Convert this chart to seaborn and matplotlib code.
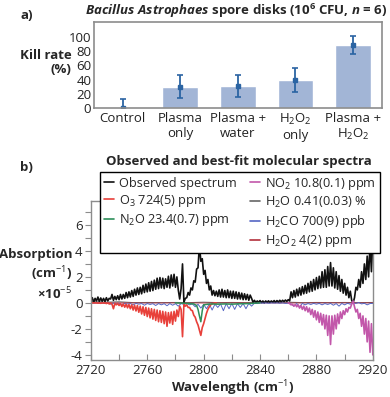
import numpy as np
import matplotlib
matplotlib.use("Agg")
import matplotlib.pyplot as plt
import seaborn as sns
from matplotlib.lines import Line2D
from matplotlib.ticker import MultipleLocator

# ---------------- data: panel a ----------------
categories = ["Control", "Plasma\nonly", "Plasma +\nwater", "H$_2$O$_2$\nonly", "Plasma +\nH$_2$O$_2$"]
kill_rate = [0, 30, 31, 39, 88.5]
kill_err = [13, 16, 16, 17, 13]

# ---------------- data: panel b (absorption x1e-5 cm-1) ----------------
wn_obs = np.arange(2720, 2921, 1)
observed = [
    0.10, 0.40, 0.05, 0.35, 0.15, 0.45, 0.10, 0.38, 0.12, 0.35,
    0.10, 0.40, 0.15, 0.35, 0.30, 0.65, 0.20, 0.50, 0.25, 0.55,
    0.25, 0.65, 0.30, 0.65, 0.35, 0.80, 0.40, 0.85, 0.45, 0.95,
    0.50, 1.05, 0.60, 1.15, 0.65, 1.20, 0.70, 1.35, 0.80, 1.45,
    0.85, 1.55, 0.90, 1.65, 0.95, 1.75, 1.05, 1.90, 1.10, 1.95,
    1.15, 1.90, 1.10, 1.85, 1.20, 2.05, 1.15, 2.15, 1.30, 2.20,
    1.20, 2.00, 1.00, 0.30, 1.10, 3.00, 0.05, 0.35, 0.40, 0.80,
    0.60, 1.15, 1.00, 1.70, 1.60, 2.60, 2.70, 4.50, 3.20, 3.40,
    2.20, 2.50, 1.50, 1.80, 1.00, 1.30, 0.60, 0.95, 0.55, 0.90,
    0.50, 1.00, 0.45, 1.05, 0.45, 0.95, 0.40, 1.00, 0.40, 0.90,
    0.35, 0.90, 0.35, 0.85, 0.30, 0.80, 0.30, 0.75, 0.25, 0.70,
    0.25, 0.65, 0.20, 0.60, 0.35, 0.05, 0.20, 0.02, 0.15, 0.05,
    0.18, 0.02, 0.15, 0.00, 0.15, 0.05, 0.16, 0.03, 0.15, 0.05,
    0.18, 0.04, 0.18, 0.06, 0.20, 0.08, 0.20, 0.10, 0.22, 0.12,
    0.25, 0.15, 0.85, 0.40, 0.95, 0.45, 1.05, 0.55, 1.15, 0.60,
    1.25, 0.70, 1.35, 0.75, 1.50, 0.85, 1.65, 0.90, 1.80, 1.00,
    1.95, 1.10, 2.05, 1.15, 2.40, 1.20, 2.55, 1.20, 2.80, 1.30,
    3.10, 1.30, 2.70, 1.15, 2.40, 1.05, 2.10, 0.90, 1.80, 0.75,
    1.50, 0.60, 1.20, 0.40, 0.90, 0.20, 0.00, 0.40, 1.20, 1.00,
    1.80, 1.20, 2.40, 1.50, 3.00, 1.80, 3.60, 2.00, 4.60, 2.40,
    5.00,
]

wn_o3 = np.arange(2720, 2810, 1)
o3 = [
    0, 0, 0, 0, 0, -0.02, 0, -0.03, 0, -0.02,
    0, -0.05, 0, -0.08, -0.02, -0.10, -0.45, -0.05, -0.15, -0.05,
    -0.20, -0.06, -0.28, -0.08, -0.33, -0.10, -0.38, -0.12, -0.45, -0.15,
    -0.55, -0.18, -0.62, -0.20, -0.72, -0.25, -0.85, -0.30, -0.95, -0.35,
    -1.05, -0.40, -1.15, -0.45, -1.25, -0.50, -1.35, -0.55, -1.45, -0.60,
    -1.50, -0.65, -1.60, -0.70, -1.80, -0.75, -1.55, -0.70, -1.65, -0.65,
    -1.40, -0.55, -1.05, -0.25, -0.50, -2.60, -0.10, -0.25, -0.15, -0.35,
    -0.35, -0.55, -0.60, -0.95, -1.10, -1.45, -1.70, -2.10, -2.50, -1.90,
    -1.60, -1.20, -0.80, -0.50, -0.30, -0.15, -0.08, -0.03, 0, 0,
]

wn_h2co = np.arange(2720, 2921, 2)
h2co = [
    0, -0.02, 0, -0.03, -0.01, -0.05, -0.02, -0.10, -0.02, -0.06,
    -0.03, -0.12, -0.04, -0.08, -0.05, -0.15, -0.04, -0.10, -0.05, -0.18,
    -0.05, -0.12, -0.06, -0.20, -0.05, -0.15, -0.06, -0.22, -0.05, -0.18,
    -0.06, -0.25, -0.05, -0.12, -0.04, -0.15, -0.08, -0.30, -0.10, -0.40,
    -0.12, -0.45, -0.08, -0.55, -0.10, -0.35, -0.08, -0.60, -0.06, -0.45,
    -0.05, -0.50, -0.06, -0.35, -0.05, -0.45, -0.04, -0.25, -0.02, -0.05,
    0, -0.02, 0, -0.03, 0, -0.02, 0, -0.03, 0, -0.04,
    -0.02, -0.08, -0.25, -0.05, -0.30, -0.04, -0.15, -0.05, -0.12, -0.04,
    -0.10, -0.04, -0.15, -0.05, -0.12, -0.04, -0.18, -0.05, -0.25, -0.04,
    -0.15, -0.03, -0.10, -0.02, -0.04, 0.03, -0.08, -0.03, -0.15, -0.05,
    -0.04,
]

wn_n2o = [2780, 2785, 2790, 2793, 2795, 2796, 2797, 2798, 2799, 2800,
          2803, 2806, 2810, 2815, 2820, 2825, 2830, 2835, 2840]
n2o = [0, -0.02, -0.05, -0.08, -0.20, -0.50, -1.00, -1.45, -0.60, -0.15,
       -0.10, -0.08, -0.10, -0.08, -0.10, -0.07, -0.06, -0.03, 0]

wn_no2 = np.arange(2860, 2921, 1)
no2 = [
    0, -0.05, -0.15, -0.10, -0.25, -0.12, -0.30, -0.15, -0.40, -0.20,
    -0.50, -0.25, -0.60, -0.30, -0.70, -0.40, -0.90, -0.50, -1.10, -0.60,
    -1.30, -0.70, -1.50, -0.80, -1.70, -0.90, -2.00, -0.95, -2.50, -1.00,
    -3.20, -1.00, -2.40, -0.95, -2.00, -0.85, -1.60, -0.70, -1.20, -0.60,
    -0.90, -0.45, -0.70, -0.35, -0.40, -0.10, 0.15, -0.30, -0.70, -0.50,
    -1.20, -0.80, -1.80, -1.00, -2.40, -1.20, -3.00, -1.40, -3.80, -1.60,
    -4.00,
]

wn_h2o = np.arange(2720, 2921, 10)
h2o = [0.10, 0.05, 0.08, 0.02, 0.03, 0.02, 0.03, 0.02, 0.05, 0.02, 0.03,
       0.02, 0.05, 0.04, 0.05, 0.02, 0.03, 0.02, 0.03, 0.02, 0.03]
wn_h2o2 = np.arange(2720, 2921, 20)
h2o2 = [0, 0, -0.01, 0, -0.01, 0, 0, -0.01, 0, 0, 0]

legend_labels = ["Observed spectrum", "O$_3$ 724(5) ppm", "N$_2$O 23.4(0.7) ppm",
                 "NO$_2$ 10.8(0.1) ppm", "H$_2$O 0.41(0.03) %",
                 "H$_2$CO 700(9) ppb", "H$_2$O$_2$ 4(2) ppm"]

# ---------------- style ----------------
sns.set_style("white")
plt.rcParams['font.family'] = ['Open Sans', 'DejaVu Sans']
plt.rcParams['mathtext.fontset'] = 'custom'
plt.rcParams['mathtext.rm'] = 'Open Sans'
plt.rcParams['mathtext.it'] = 'Open Sans:italic'
plt.rcParams['mathtext.bf'] = 'Open Sans:bold'
plt.rcParams['mathtext.bfit'] = 'Open Sans:italic:bold'
plt.rcParams['axes.unicode_minus'] = False
plt.rcParams['path.simplify'] = False

C_OBS = "#111111"
C_O3 = "#e8403a"
C_N2O = "#2e8f5a"
C_NO2 = "#c257aa"
C_H2O = "#666666"
C_H2CO = "#5566c4"
C_H2O2 = "#b3303c"
SPINE = "#8c8c8c"

fig = plt.figure(figsize=(3.9, 3.97), dpi=100)

# ---------------- panel a ----------------
ax1 = fig.add_axes([0.241, 0.728, 0.738, 0.217])
sns.barplot(x=categories, y=kill_rate, color="#a2b5d6", saturation=1,
            width=0.62, ax=ax1)
ax1.errorbar(range(len(kill_rate)), kill_rate, yerr=kill_err, fmt='s', ms=3,
             color="#2b64a3", ecolor="#2b64a3", elinewidth=1.3, capsize=2.5,
             capthick=1.2)
ax1.set_xlim(-0.5, 4.5)
ax1.set_ylim(0, 121.6)
ax1.set_yticks([0, 20, 40, 60, 80, 100])
ax1.set_xlabel("")
ax1.set_ylabel("")
ax1.tick_params(axis='both', length=0, labelsize=9.5, pad=2, colors="#222222")
ax1.tick_params(axis='x', pad=3)
for s in ax1.spines.values():
    s.set_color(SPINE)
    s.set_linewidth(1.2)
fig.text(0.183, 0.842, "Kill rate\n(%)", ha='right', va='center',
         multialignment='right', fontsize=9.5, fontweight='bold',
         linespacing=1.15)
fig.text(0.605, 0.972,
         r"$\mathbfit{Bacillus\ Astrophaes}$ spore disks (10$^{\mathbf{6}}$ CFU, $\mathbfit{n}$ = 6)",
         ha='center', va='center', fontsize=9.5, fontweight='bold')
fig.text(0.053, 0.962, "a)", ha='left', va='center', fontsize=9.5, fontweight='bold')

# ---------------- panel b ----------------
ax2 = fig.add_axes([0.233, 0.093, 0.723, 0.401])
lw_spec = 1.2
sns.lineplot(x=wn_h2o, y=h2o, color=C_H2O, lw=0.8, ax=ax2, estimator=None, sort=False)
sns.lineplot(x=wn_h2o2, y=h2o2, color=C_H2O2, lw=0.6, ax=ax2, estimator=None, sort=False)
sns.lineplot(x=wn_obs, y=observed, color=C_OBS, lw=lw_spec, ax=ax2, estimator=None, sort=False)
sns.lineplot(x=wn_h2co, y=h2co, color=C_H2CO, lw=0.7, ax=ax2, estimator=None, sort=False)
sns.lineplot(x=wn_o3, y=o3, color=C_O3, lw=lw_spec, ax=ax2, estimator=None, sort=False)
sns.lineplot(x=wn_no2, y=no2, color=C_NO2, lw=lw_spec, ax=ax2, estimator=None, sort=False)
sns.lineplot(x=wn_n2o, y=n2o, color=C_N2O, lw=1.1, ax=ax2, estimator=None, sort=False)

ax2.set_xlim(2720, 2920)
ax2.set_ylim(-4.4, 7.85)
ax2.set_xticks([2720, 2760, 2800, 2840, 2880, 2920])
ax2.xaxis.set_minor_locator(MultipleLocator(20))
ax2.set_yticks([-4, -2, 0, 2, 4, 6])
ax2.yaxis.set_minor_locator(MultipleLocator(1))
ax2.tick_params(axis='x', which='both', direction='in', length=4, width=0.8,
                color=SPINE, labelsize=9.5, pad=3, bottom=True)
ax2.tick_params(axis='y', which='both', direction='out', length=4, width=0.8,
                color=SPINE, labelsize=9.5, pad=2, left=True)
ax2.set_xlabel("")
ax2.set_ylabel("")
for s in ax2.spines.values():
    s.set_color(SPINE)
    s.set_linewidth(1.0)

fig.text(0.185, 0.307, "Absorption\n(cm$^{-1}$)\n\u00d710$^{-5}$", ha='right',
         va='center', multialignment='right', fontsize=9.5, fontweight='bold',
         linespacing=1.2)
fig.text(0.597, 0.022, "Wavelength (cm$^{-1}$)", ha='center', va='center',
         fontsize=9.5, fontweight='bold')
fig.text(0.612, 0.592, "Observed and best-fit molecular spectra", ha='center',
         va='center', fontsize=9.5, fontweight='bold')
fig.text(0.051, 0.577, "b)", ha='left', va='center', fontsize=9.5, fontweight='bold')

colors = [C_OBS, C_O3, C_N2O, C_NO2, C_H2O, C_H2CO, C_H2O2]
handles = [Line2D([], [], color=c, lw=1.2) for c in colors]
blank = Line2D([], [], alpha=0)
h_order = handles[:3] + [blank] + handles[3:]
l_order = legend_labels[:3] + [" "] + legend_labels[3:]
leg = fig.legend(h_order, l_order, ncol=2, loc='upper left',
                 bbox_to_anchor=(0.256, 0.567), fontsize=9.2,
                 frameon=True, fancybox=False, framealpha=1,
                 edgecolor='black', handlelength=0.8, handletextpad=0.4,
                 labelspacing=0.25, columnspacing=1.0, borderpad=0.3,
                 borderaxespad=0)
leg.get_frame().set_linewidth(1.0)

fig.savefig("out.png", dpi=100)
